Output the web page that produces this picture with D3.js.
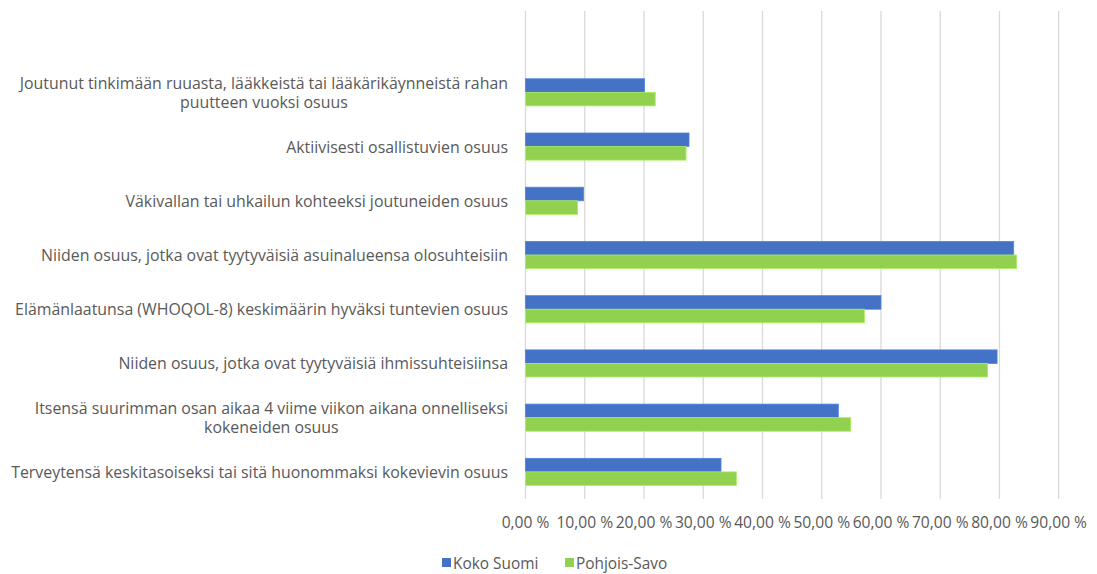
<!DOCTYPE html>
<html>
<head>
<meta charset="utf-8">
<script src="https://cdn.jsdelivr.net/npm/d3@7"></script>
<style>
  html, body { margin: 0; padding: 0; background: #fff; }
  svg { display: block; }
  text { font-family: "Open Sans", "Noto Sans", sans-serif; fill: #595959; }
</style>
</head>
<body>
<svg id="chart" width="1097" height="574"></svg>
<script>
// ---- Data ----
const categories = [
  "Joutunut tinkimään ruuasta, lääkkeistä tai lääkärikäynneistä rahan\npuutteen vuoksi osuus",
  "Aktiivisesti osallistuvien osuus",
  "Väkivallan tai uhkailun kohteeksi joutuneiden osuus",
  "Niiden osuus, jotka ovat tyytyväisiä asuinalueensa olosuhteisiin",
  "Elämänlaatunsa (WHOQOL-8) keskimäärin hyväksi tuntevien osuus",
  "Niiden osuus, jotka ovat tyytyväisiä ihmissuhteisiinsa",
  "Itsensä suurimman osan aikaa 4 viime viikon aikana onnelliseksi\nkokeneiden osuus",
  "Terveytensä keskitasoiseksi tai sitä huonommaksi kokevievin osuus"
];
const seriesNames = ["Koko Suomi", "Pohjois-Savo"];
const kokoSuomi   = [20.1, 27.6, 9.8, 82.4, 60.0, 79.6, 52.8, 33.0];
const pohjoisSavo = [21.9, 27.1, 8.8, 82.9, 57.2, 78.0, 54.9, 35.6];
const tickValues = [0, 10, 20, 30, 40, 50, 60, 70, 80, 90];
const colors = ["#4472C4", "#92D050"];

// ---- Layout ----
const svg = d3.select("#chart");
const plot = { left: 525.5, right: 1058.7, top: 11, bottom: 499 };
const labelFont = 15.9;
const tickFont = 15.6;
const legendFont = 15.4;

const x = d3.scaleLinear().domain([0, 90]).range([plot.left, plot.right]);
const step = (plot.bottom - plot.top) / 9;
const y = d3.scaleBand()
  .domain(categories)
  .range([plot.top + step, plot.bottom])
  .paddingInner(0.5)
  .paddingOuter(0.25);
const ySub = d3.scaleBand().domain(seriesNames).range([0, y.bandwidth()]);

// gridlines
svg.append("g")
  .selectAll("line")
  .data(tickValues)
  .join("line")
  .attr("x1", d => x(d)).attr("x2", d => x(d))
  .attr("y1", plot.top).attr("y2", plot.bottom)
  .attr("stroke", "#d9d9d9")
  .attr("stroke-width", 1.3);

// bars
const seriesData = [kokoSuomi, pohjoisSavo];
seriesData.forEach((vals, si) => {
  svg.append("g")
    .selectAll("rect")
    .data(vals)
    .join("rect")
    .attr("x", x(0))
    .attr("y", (d, i) => y(categories[i]) + ySub(seriesNames[si]))
    .attr("width", d => x(d) - x(0))
    .attr("height", ySub.bandwidth())
    .attr("fill", colors[si])
    .attr("stroke", d3.color(colors[si]).brighter(0.4))
    .attr("stroke-width", 0.8);
});

// x axis tick labels
const fmt = v => v.toFixed(2).replace(".", ",") + " %";
svg.append("g")
  .selectAll("text")
  .data(tickValues)
  .join("text")
  .attr("x", d => x(d))
  .attr("y", 522)
  .attr("dominant-baseline", "central")
  .attr("text-anchor", "middle")
  .attr("font-size", tickFont)
  .text(fmt);

// category labels
const labelRight = 508;
const lineH = 18.5;
const lg = svg.append("g");
categories.forEach(cat => {
  const lines = cat.split("\n");
  const cy = y(cat) + y.bandwidth() / 2;
  const g = lg.append("g");
  const texts = lines.map((ln, i) =>
    g.append("text")
      .attr("font-size", labelFont)
      .attr("dominant-baseline", "central")
      .attr("y", cy + (i - (lines.length - 1) / 2) * lineH)
      .text(ln));
  const maxW = d3.max(texts, t => t.node().getComputedTextLength());
  const cx = labelRight - maxW / 2;
  texts.forEach(t => t.attr("x", cx).attr("text-anchor", "middle"));
});

// legend
const legendItems = [
  { name: seriesNames[0], color: colors[0], sx: 442, tx: 453 },
  { name: seriesNames[1], color: colors[1], sx: 565, tx: 576 }
];
const leg = svg.append("g");
leg.selectAll("rect")
  .data(legendItems)
  .join("rect")
  .attr("x", d => d.sx).attr("y", 558)
  .attr("width", 9).attr("height", 9)
  .attr("fill", d => d.color);
leg.selectAll("text")
  .data(legendItems)
  .join("text")
  .attr("x", d => d.tx).attr("y", 563)
  .attr("dominant-baseline", "central")
  .attr("font-size", legendFont)
  .text(d => d.name);
</script>
</body>
</html>
